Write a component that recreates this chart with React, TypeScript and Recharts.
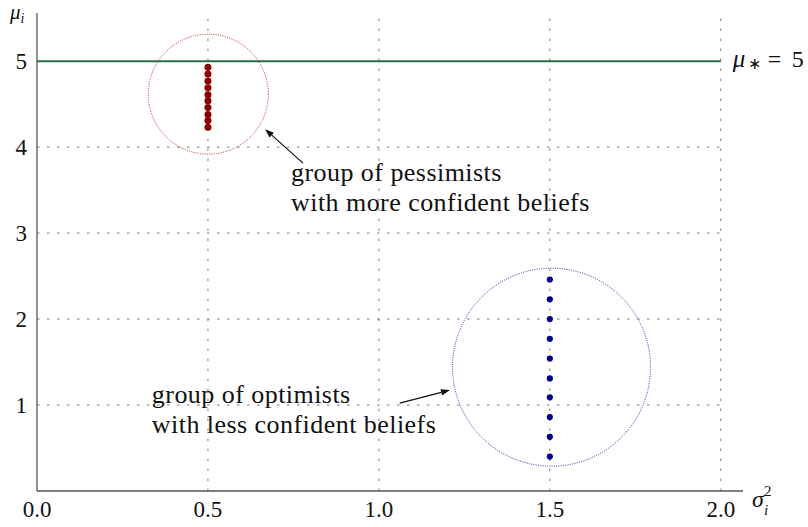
import React from 'react';
import { ScatterChart, Scatter, XAxis, YAxis, ReferenceLine, ReferenceDot } from 'recharts';

// ---- data ----
const pessimistSigma = 0.5;
const pessimistMu = [4.93, 4.85, 4.77, 4.69, 4.61, 4.54, 4.46, 4.38, 4.31, 4.23];
const optimistSigma = 1.5;
const optimistMu = [2.46, 2.23, 2.0, 1.77, 1.54, 1.31, 1.09, 0.86, 0.63, 0.4];
const trueMu = 5;
const xTicks = [0, 0.5, 1, 1.5, 2];
const yTicks = [1, 2, 3, 4, 5];
const gridX = [0.5, 1, 1.5, 2];
const gridY = [1, 2, 3, 4];
const pessimistText = ['group of pessimists', 'with more confident beliefs'];
const optimistText = ['group of optimists', 'with less confident beliefs'];

const pessimistData = pessimistMu.map((mu) => ({ sigma: pessimistSigma, mu }));
const optimistData = optimistMu.map((mu) => ({ sigma: optimistSigma, mu }));

const SERIF = 'Liberation Serif';
const X_MAX = 2.065;
const Y_MAX = 5.56;

const dotShape = (color: string, r: number) => (p: any) => (
  <circle cx={p.cx} cy={p.cy} r={r} fill={color} stroke="none" />
);

const Arrow = (p: any) => {
  const { x1, y1, x2, y2 } = p;
  if ([x1, y1, x2, y2].some((v) => typeof v !== 'number' || isNaN(v))) return null;
  const ang = Math.atan2(y2 - y1, x2 - x1);
  const L = 9;
  const W = 3.2;
  const bx = x2 - L * Math.cos(ang);
  const by = y2 - L * Math.sin(ang);
  const px = -Math.sin(ang) * W;
  const py = Math.cos(ang) * W;
  return (
    <g>
      <line x1={x1} y1={y1} x2={bx} y2={by} stroke="#111" strokeWidth={1.2} />
      <polygon points={`${x2},${y2} ${bx + px},${by + py} ${bx - px},${by - py}`} fill="#111" />
    </g>
  );
};

const multiLine = (lines: string[]) => (p: any) => (
  <text x={p.cx} y={p.cy} fontFamily={SERIF} fontSize={26} letterSpacing={0.45} fill="#111">
    {lines.map((l, i) => (
      <tspan key={i} x={p.cx} dy={i === 0 ? 0 : 30}>
        {l}
      </tspan>
    ))}
  </text>
);

const MuStarLabel = (p: any) => (
  <g fontFamily={SERIF} fill="#111">
    <text x={p.cx + 12} y={p.cy + 6} fontSize={25} fontStyle="italic">μ</text>
    <text x={p.cx + 27} y={p.cy + 8} fontSize={16}>∗</text>
    <text x={p.cx + 47} y={p.cy + 6} fontSize={24}>=</text>
    <text x={p.cx + 71} y={p.cy + 6} fontSize={24}>5</text>
  </g>
);

const YLabel = (p: any) => (
  <text x={p.cx - 27} y={p.cy + 6} fontFamily={SERIF} fontSize={21} fill="#111">
    <tspan fontStyle="italic">μ</tspan>
    <tspan fontStyle="italic" fontSize={14} dy={4}>i</tspan>
  </text>
);

const XLabel = (p: any) => (
  <g fontFamily={SERIF} fill="#111">
    <text x={p.cx + 9} y={p.cy + 16} fontSize={24} fontStyle="italic">σ</text>
    <text x={p.cx + 21} y={p.cy + 5} fontSize={15}>2</text>
    <text x={p.cx + 21} y={p.cy + 24} fontSize={15} fontStyle="italic">i</text>
  </g>
);

const gridStyle = { stroke: '#7a7a7a', strokeWidth: 1, strokeDasharray: '2.5 7.5' };
const AXIS_W = 30;
const AXIS_H = 30;

export default function App() {
  return (
    <div style={{ position: 'absolute', left: 0, top: 0, width: 808, height: 527, background: '#fff' }}>
      <ScatterChart
        width={808}
        height={527}
        margin={{ top: 13, right: 65, bottom: 36 - AXIS_H, left: 37 - AXIS_W }}
      >
        <XAxis
          type="number"
          dataKey="sigma"
          domain={[0, X_MAX]}
          ticks={xTicks}
          interval={0}
          allowDataOverflow
          height={AXIS_H}
          tickLine={false}
          tickSize={0}
          tickMargin={10}
          tickFormatter={(v: number) => v.toFixed(1)}
          axisLine={{ stroke: '#555', strokeWidth: 1.3 }}
          tick={{ fontSize: 23, fill: '#111', fontFamily: SERIF }}
        />
        <YAxis
          type="number"
          dataKey="mu"
          domain={[0, Y_MAX]}
          ticks={yTicks}
          interval={0}
          allowDataOverflow
          width={AXIS_W}
          tickLine={false}
          tickSize={0}
          tickMargin={10}
          axisLine={{ stroke: '#555', strokeWidth: 1.3 }}
          tick={{ fontSize: 23, fill: '#111', fontFamily: SERIF }}
        />
        {gridX.map((x) => (
          <ReferenceLine key={'gx' + x} x={x} {...gridStyle} />
        ))}
        {gridY.map((y) => (
          <ReferenceLine
            key={'gy' + y}
            segment={[
              { x: 0, y },
              { x: 2, y },
            ]}
            {...gridStyle}
          />
        ))}
        <ReferenceLine
          segment={[
            { x: 0, y: trueMu },
            { x: 2, y: trueMu },
          ]}
          stroke="#2a6e46"
          strokeWidth={2}
        />
        <ReferenceDot x={2} y={trueMu} r={0} shape={MuStarLabel} />
        <ReferenceDot x={0} y={Y_MAX} r={0} shape={YLabel} />
        <ReferenceDot x={X_MAX} y={0} r={0} shape={XLabel} />
        <ReferenceDot
          x={0.501}
          y={4.616}
          r={60}
          fill="none"
          stroke="#c82828"
          strokeWidth={1}
          strokeDasharray="1 1.3"
        />
        <ReferenceDot
          x={1.505}
          y={1.44}
          r={99}
          fill="none"
          stroke="#2a2ab8"
          strokeWidth={1}
          strokeDasharray="1 1.3"
        />
        <ReferenceLine
          segment={[
            { x: 0.778, y: 3.814 },
            { x: 0.667, y: 4.209 },
          ]}
          shape={Arrow}
        />
        <ReferenceLine
          segment={[
            { x: 1.061, y: 1.023 },
            { x: 1.208, y: 1.174 },
          ]}
          shape={Arrow}
        />
        <ReferenceDot x={0.743} y={3.605} r={0} shape={multiLine(pessimistText)} />
        <ReferenceDot x={0.336} y={1.023} r={0} shape={multiLine(optimistText)} />
        <Scatter data={pessimistData} isAnimationActive={false} shape={dotShape('#8b0000', 3.5)} />
        <Scatter data={optimistData} isAnimationActive={false} shape={dotShape('#00008b', 3.1)} />
      </ScatterChart>
    </div>
  );
}
